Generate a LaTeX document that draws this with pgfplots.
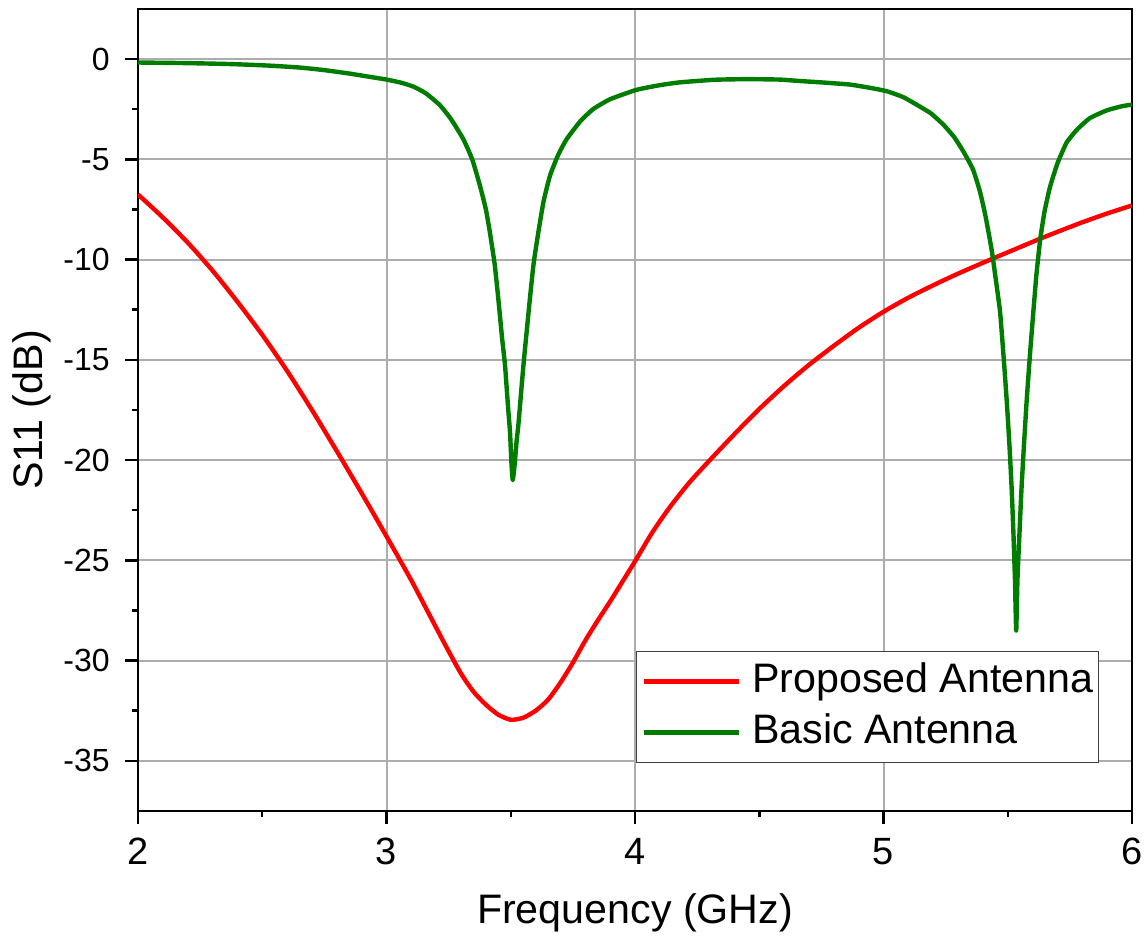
\documentclass[border=0pt]{standalone}
\usepackage{pgfplots}
\pgfplotsset{compat=1.18}
\usepackage{fontspec}
\setmainfont{Liberation Sans}
\definecolor{pgreen}{RGB}{0,125,0}
\definecolor{pred}{RGB}{255,0,0}
\begin{document}
\begin{tikzpicture}
\begin{axis}[
  scale only axis,
  width=497pt, height=401pt,
  xmin=2, xmax=6, ymin=-37.5, ymax=2.5,
  xtick={2,3,4,5,6}, ytick={-35,-30,-25,-20,-15,-10,-5,0},
  minor x tick num=1, minor y tick num=1,
  tick align=outside, xtick pos=bottom, ytick pos=left,
  major tick length=6.5pt, minor tick length=3pt,
  tick style={black, line width=1.25pt},
  axis line style={line width=1.25pt, black},
  grid=major, major grid style={black!32, line width=1pt},
  /pgf/number format/assume math mode=true,
  xticklabel style={font=\fontsize{19}{22}\selectfont, inner sep=0pt, anchor=north, yshift=-7pt},
  yticklabel style={font=\fontsize{16}{19}\selectfont, inner sep=0pt, anchor=east, xshift=-7.5pt},
  xlabel={Frequency (GHz)}, ylabel={S11 (dB)},
  label style={font=\fontsize{20.6}{24}\selectfont},
  xlabel style={at={(axis description cs:0.5,-0.1409)}, anchor=base},
  ylabel style={at={(axis description cs:-0.0956,0.5)}, anchor=base},
  legend style={at={(rel axis cs:1,0)}, anchor=south east, xshift=-16.5pt, yshift=24pt,
    draw=black!75, line width=0.6pt, fill=white,
    font=\fontsize{20.6}{24}\selectfont,
    inner xsep=2.5pt, inner ysep=5.3pt, row sep=6.2pt, column sep=5.5pt,
    nodes={inner sep=0pt, text height=15pt, text depth=4.3pt}},
  legend cell align=left,
  legend image code/.code={\draw[#1, line width=2.2pt] (0pt,0pt) -- (47.5pt,0pt);},
]
\addplot[pred, line width=2.2pt, line join=round, smooth, tension=0.4] coordinates {
(2.00,-6.75) (2.10,-7.9) (2.20,-9.15) (2.30,-10.55) (2.40,-12.1) (2.50,-13.75)
(2.60,-15.55) (2.70,-17.5) (2.80,-19.55) (2.90,-21.65) (3.00,-23.8) (3.10,-26.0)
(3.17,-27.65) (3.24,-29.3) (3.30,-30.65) (3.35,-31.55) (3.40,-32.2) (3.45,-32.7)
(3.50,-32.95) (3.55,-32.85) (3.60,-32.5) (3.65,-31.95) (3.70,-31.1) (3.75,-30.1)
(3.80,-29.0) (3.85,-28.0) (3.90,-27.05) (3.95,-26.05) (4.00,-25.05) (4.07,-23.6)
(4.14,-22.35) (4.22,-21.1) (4.32,-19.75) (4.42,-18.45) (4.50,-17.45) (4.60,-16.3)
(4.70,-15.25) (4.80,-14.3) (4.90,-13.4) (5.00,-12.6) (5.10,-11.9) (5.20,-11.28)
(5.30,-10.7) (5.43,-10.0) (5.53,-9.48) (5.63,-8.96) (5.72,-8.52) (5.80,-8.14)
(5.90,-7.7) (6.00,-7.3)
};
\addlegendentry{Proposed Antenna}
\addplot[pgreen, line width=2.2pt, line join=round, smooth, tension=0.3] coordinates {
(2.00,-0.17) (2.20,-0.20) (2.38,-0.25) (2.52,-0.32) (2.65,-0.42) (2.75,-0.55)
(2.85,-0.72) (2.93,-0.88) (3.00,-1.02) (3.06,-1.18) (3.11,-1.38) (3.16,-1.72)
(3.215,-2.3) (3.26,-3.0) (3.309,-3.99) (3.345,-5.0) (3.376,-6.31) (3.40,-7.5)
(3.416,-8.64) (3.435,-10.2) (3.450,-11.96) (3.465,-13.9) (3.477,-15.28) (3.490,-17.5)
(3.497,-18.6) (3.503,-20.2) (3.508,-21.0) (3.515,-20.3) (3.524,-19.0) (3.531,-18.2)
(3.551,-15.28) (3.577,-11.96) (3.592,-10.2) (3.611,-8.64) (3.632,-7.1) (3.658,-5.81)
(3.69,-4.8) (3.725,-3.99) (3.78,-3.1) (3.832,-2.49) (3.90,-2.0) (4.007,-1.53)
(4.10,-1.3) (4.18,-1.16) (4.32,-1.03) (4.45,-1.00) (4.58,-1.02) (4.66,-1.09)
(4.76,-1.17) (4.865,-1.27) (4.94,-1.42) (5.013,-1.60) (5.08,-1.90) (5.133,-2.27)
(5.19,-2.70) (5.241,-3.27) (5.285,-3.9) (5.321,-4.6) (5.36,-5.5) (5.388,-6.6)
(5.41,-7.8) (5.435,-9.5) (5.452,-11.0) (5.469,-12.6) (5.483,-14.8) (5.496,-17.06)
(5.507,-19.3) (5.516,-21.5) (5.523,-23.7) (5.529,-25.96) (5.534,-28.5) (5.539,-25.96)
(5.547,-23.7) (5.555,-21.5) (5.565,-19.3) (5.576,-17.06) (5.589,-14.8) (5.603,-12.6)
(5.615,-10.8) (5.630,-9.05) (5.648,-7.6) (5.670,-6.38) (5.700,-5.2) (5.737,-4.16)
(5.78,-3.5) (5.831,-2.94) (5.90,-2.55) (5.96,-2.35) (6.00,-2.27)
};
\addlegendentry{Basic Antenna}
\coordinate (bbll) at (rel axis cs:0,0);
\coordinate (bbur) at (rel axis cs:1,1);
\end{axis}
\pgfresetboundingbox
\path[use as bounding box] ([shift={(-69pt,-63pt)}]bbll) rectangle ([shift={(6pt,4.5pt)}]bbur);
\end{tikzpicture}
\end{document}
